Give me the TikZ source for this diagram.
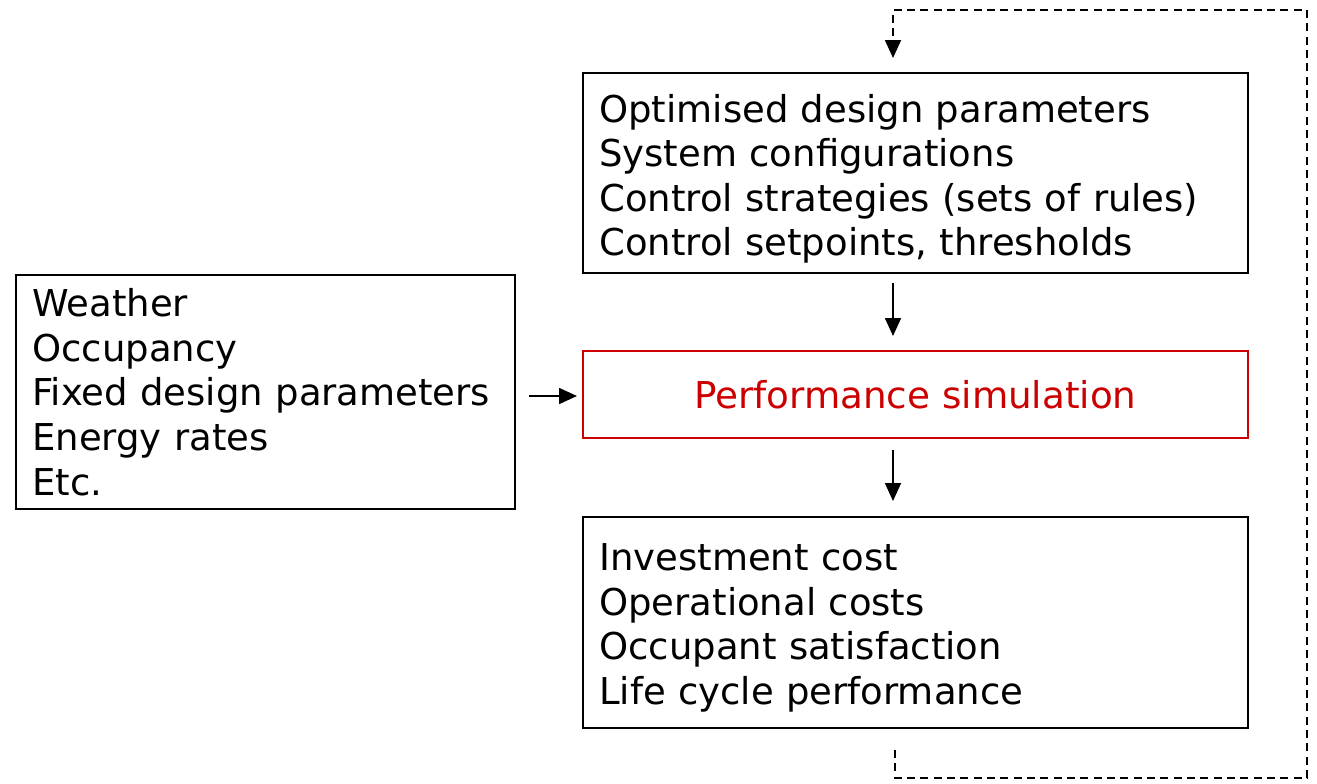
\documentclass[tikz,border=0pt]{standalone}
\usepackage{fontspec}
\setmainfont{DejaVu Sans}
\newfontfamily\condfont[FakeStretch=1.12]{DejaVu Sans Condensed}
\usetikzlibrary{arrows.meta}
\definecolor{simred}{RGB}{204,0,0}
\tikzset{
  blockbox/.style={draw=black, line width=1.5pt, rectangle, inner sep=0pt},
  blocktext/.style={anchor=base west, inner sep=0pt, align=left, text width=#1,
    font=\fontsize{27.75}{33.45}\selectfont},
  simbox/.style={draw=simred, line width=1.5pt, rectangle, text=simred,
    font=\condfont\fontsize{27.75}{33.45}\selectfont},
  flow/.style={line width=1.3pt, -{Triangle[length=13.5pt,width=12pt]}},
  feedback/.style={line width=1.3pt, dash pattern=on 6pt off 4pt, -{Triangle[length=13.5pt,width=12pt]}}
}
\begin{document}
\begin{tikzpicture}[x=0.75pt,y=-0.75pt]
\useasboundingbox (0,0) rectangle (1317,783);
\node[blockbox, minimum width=498.75pt, minimum height=150pt] (design) at (915.5,173) {};
\node[blocktext=480pt] (designtext) at (599,122)
  {Optimised design parameters\\System configurations\\Control strategies (sets of rules)\\Control setpoints, thresholds};
\node[blockbox, minimum width=374.25pt, minimum height=175.5pt] (inputs) at (265.5,392) {};
\node[blocktext=360pt] (inputstext) at (32,316.7)
  {Weather\\Occupancy\\Fixed design parameters\\Energy rates\\Etc.};
\node[simbox, minimum width=498.75pt, minimum height=65.25pt] (sim) at (915.5,394.5)
  {Performance simulation};
\node[blockbox, minimum width=498.75pt, minimum height=158.25pt] (results) at (915.5,622.5) {};
\node[blocktext=480pt] (resultstext) at (599,570.7)
  {Investment cost\\Operational costs\\Occupant satisfaction\\Life cycle performance};
\coordinate (a1s) at (893,283);
\coordinate (a1e) at (893,336);
\coordinate (a2s) at (893,450);
\coordinate (a2e) at (893,501);
\coordinate (a3s) at (529,396);
\coordinate (a3e) at (577,396);
\coordinate (fbs) at (895,750);
\coordinate (fbe) at (893,58);
\draw[flow] (a1s) -- (a1e);
\draw[flow] (a2s) -- (a2e);
\draw[flow] (a3s) -- (a3e);
\draw[feedback] (fbs) -- (895,778) -- (1307,778) -- (1307,10) -- (893,10) -- (fbe);
\end{tikzpicture}
\end{document}
